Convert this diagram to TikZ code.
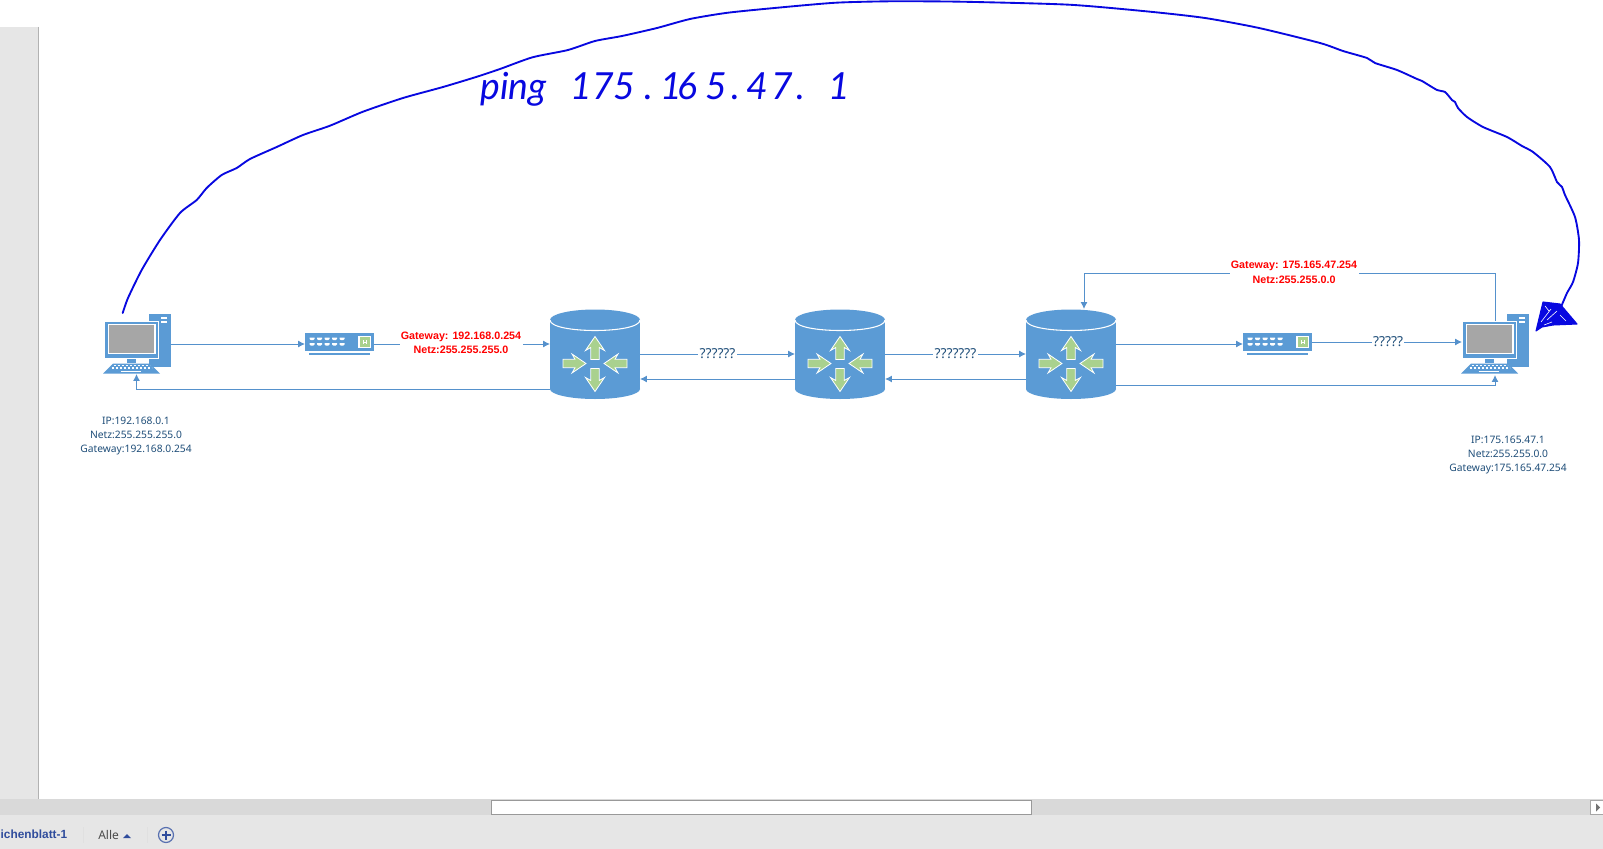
\documentclass[tikz,border=0pt]{standalone}
\usepackage{fontspec}
\setmainfont{Noto Sans}
\newfontfamily\handfont{Lato}
\newfontfamily\boldfont{Liberation Sans}
\usetikzlibrary{arrows.meta}
\definecolor{iconblue}{HTML}{5B9BD5}
\definecolor{linkblue}{HTML}{5591CC}
\definecolor{iconGreen}{HTML}{A9D18E}
\definecolor{textnavy}{HTML}{1F4E79}
\definecolor{penblue}{HTML}{0808E0}
\definecolor{panelgrey}{HTML}{E6E6E6}
\definecolor{bargrey}{HTML}{D9D9D9}
\definecolor{tabblue}{HTML}{2F4C9C}
\tikzset{
  conn/.style={draw=linkblue,line width=0.7pt,-{Latex[length=5.2pt,width=5.2pt]}},
  anchorbox/.style={inner sep=0pt,outer sep=0pt,minimum height=#1},
  redlabel/.style={fill=white,text=red,inner sep=1pt,align=center,font=\boldfont\bfseries\fontsize{8.05}{10.9}\selectfont},
  netlabel/.style={text=textnavy,inner sep=0pt,align=center,font=\fontsize{7.7}{10.8}\selectfont},
  qlabel/.style={fill=white,text=textnavy,inner sep=1pt,font=\fontsize{10.3}{12}\selectfont},
  pen/.style={draw=penblue,line width=1.4pt,line cap=round,line join=round},
  greenarrow/.pic={\path[fill=iconGreen,draw=white,line width=0.6pt]
    (0,-4.2)--(12,-4.2)--(9,-9.5)--(23,0)--(9,9.5)--(12,4.2)--(0,4.2)--cycle;},
  routerpic/.pic={
    \fill[iconblue] (-45,-34.5) rectangle (45,34.5);
    \fill[iconblue] (0,34.5) ellipse [x radius=45,y radius=10];
    \fill[iconblue] (0,-34.5) ellipse [x radius=45,y radius=10.5];
    \draw[white,line width=0.8pt] (-45,-34.5) .. controls (-45,-20.5) and (45,-20.5) .. (45,-34.5);
    \pic at (0,5) [rotate=90] {greenarrow};
    \pic at (0,14) [rotate=-90] {greenarrow};
    \pic at (-32,9) {greenarrow};
    \pic at (32,9) [rotate=180] {greenarrow};
  },
  switchpic/.pic={
    \fill[iconblue] (-34.5,-11) rectangle (34.5,7);
    \fill[iconblue] (-30.5,9) rectangle (30.5,11);
    \foreach \px in {-27.5,-20,-12.5,-5,2.5}{
      \fill[white] (\px-2.5,-6.5) -- (\px+2.5,-6.5) -- (\px+2.5,-5) -- (\px+1,-3.8) -- (\px-1,-3.8) -- (\px-2.5,-5) -- cycle;
      \fill[white] (\px-2.5,-1) -- (\px+2.5,-1) -- (\px+2.5,0.5) -- (\px+1,1.7) -- (\px-1,1.7) -- (\px-2.5,0.5) -- cycle;
    }
    \fill[iconGreen,draw=white,line width=0.8pt] (19.5,-7.5) rectangle (31,3.5);
    \draw[white,line width=0.5pt] (23.5,-3.8)--(23.5,0) (27,-3.8)--(27,0) (23.5,-2)--(27,-2);
  },
  pcpic/.pic={
    \fill[iconblue] (12.5,-30) rectangle (34.5,23);
    \fill[white] (24,-27) rectangle (30,-25);
    \fill[white] (24,-23) rectangle (30,-21);
    \fill[iconblue,draw=white,line width=0.8pt] (-31.5,-22) rectangle (22,14);
    \fill[iconblue] (-31.5,-22) rectangle (21,13.5);
    \fill[black!35,draw=white,line width=0.8pt] (-28,-19.5) rectangle (18.5,9.5);
    \fill[iconblue] (-9.5,14.5) rectangle (-0.5,19);
    \fill[iconblue] (-33.5,29.5)--(23.5,29.5)--(13.5,19.5)--(-23.5,19.5)--cycle;
    \draw[white,line width=0.8pt,dash pattern=on 2pt off 1pt] (-23,21.5)--(13,21.5);
    \draw[white,line width=0.8pt,dash pattern=on 2pt off 1pt] (-25,24)--(15,24);
    \draw[white,line width=0.8pt] (-16,27.5)--(4,27.5);
  }
}
\begin{document}
\begin{tikzpicture}[x=0.75pt,y=-0.75pt]
\useasboundingbox (0,0) rectangle (1603,849);
% window chrome
\fill[white] (0,0) rectangle (1603,849);
\fill[panelgrey] (0,27) rectangle (38,799);
\draw[black!30,line width=0.8pt] (38.5,27) -- (38.5,799);
\fill[bargrey] (0,799) rectangle (1603,815);
\fill[panelgrey] (0,815) rectangle (1603,849);
\fill[white,draw=black!40,line width=0.6pt] (491,800) rectangle (1031,814);
\fill[white,draw=black!35,line width=0.6pt] (1590.5,800) rectangle (1604,814.5);
\fill[black!55] (1596,803.5)--(1600,807.5)--(1596,811.5)--cycle;
\node[anchor=east,inner sep=0pt,text=tabblue,font=\boldfont\bfseries\fontsize{8.9}{11}\selectfont] (tabname) at (67.5,834.5) {ichenblatt-1};
\draw[black!12,line width=0.8pt] (83.5,827)--(83.5,843);
\node[anchor=west,inner sep=0pt,text=black!70,font=\fontsize{9}{11}\selectfont] (tabfilter) at (98,834.5) {Alle};
\fill[tabblue] (123,838)--(127,834)--(131,838)--cycle;
\draw[black!12,line width=0.8pt] (147.5,827)--(147.5,843);
\draw[tabblue!80,line width=0.9pt] (166,835) circle [radius=7.5];
\draw[tabblue,line width=1.3pt] (161.5,835)--(170.5,835) (166,830.5)--(166,839.5);
% anchors for devices
\node[anchorbox=60pt*0.75,minimum width=51.75pt] (pc1) at (136.5,344) {};
\node[anchorbox=60pt*0.75,minimum width=51.75pt] (pc2) at (1494.5,344) {};
\node[anchorbox=22pt*0.75,minimum width=51.75pt] (sw1) at (339.5,344) {};
\node[anchorbox=22pt*0.75,minimum width=51.75pt] (sw2) at (1277.5,344) {};
\node[anchorbox=89pt*0.75,minimum width=67.5pt] (r1) at (595,354.5) {};
\node[anchorbox=89pt*0.75,minimum width=67.5pt] (r2) at (840,354.5) {};
\node[anchorbox=89pt*0.75,minimum width=67.5pt] (r3) at (1071,354.5) {};
% connection ports
\coordinate (pc1in) at (136.5,374);
\coordinate (r1low) at (550,389);
\coordinate (r1out) at (640,354);
\coordinate (r1in) at (640,379);
\coordinate (r2inA) at (795,354);
\coordinate (r2outA) at (795,379);
\coordinate (r2outB) at (885,354);
\coordinate (r2inB) at (885,379);
\coordinate (r3inA) at (1026,354);
\coordinate (r3outA) at (1026,379);
\coordinate (r3outS) at (1116,344);
\coordinate (r3outP) at (1116,385);
\coordinate (r3top) at (1084,309);
\coordinate (sw2out) at (1312,342);
\coordinate (pc2in) at (1462,342);
\coordinate (pc2low) at (1495,375);
\coordinate (pc2top) at (1495,322);
\coordinate (upper) at (1084,273);
% connectors
\draw[conn] (pc1.east) -- (sw1.west);
\draw[conn] (sw1.east) -- (r1.west |- sw1.east);
\draw[conn] (r1low) -| (pc1in);
\draw[conn] (r1out) -- node[qlabel] (q1) {??????} (r2inA);
\draw[conn] (r2outA) -- (r1in);
\draw[conn] (r2outB) -- node[qlabel] (q2) {???????} (r3inA);
\draw[conn] (r3outA) -- (r2inB);
\draw[conn] (r3outS) -- (sw2.west);
\draw[conn] (sw2out) -- node[qlabel,pos=0.507] (q3) {?????} (pc2in);
\draw[conn] (r3outP) -| (pc2low);
\draw[conn] (pc2top) |- (upper) -- (r3top);
% devices
\pic at (pc1) {pcpic};
\pic at (pc2) {pcpic};
\pic at (sw1) {switchpic};
\pic at (sw2) {switchpic};
\pic at (r1) {routerpic};
\pic at (r2) {routerpic};
\pic at (r3) {routerpic};
% labels
\node[redlabel] (gw1) at (461,343) {Gateway: 192.168.0.254\\Netz:255.255.255.0};
\node[redlabel] (gw2) at (1294,272.5) {Gateway: 175.165.47.254\\Netz:255.255.0.0};
\node[netlabel] (info1) at (136,436) {IP:192.168.0.1\\Netz:255.255.255.0\\Gateway:192.168.0.254};
\node[netlabel] (info2) at (1508,455) {IP:175.165.47.1\\Netz:255.255.0.0\\Gateway:175.165.47.254};
% hand-drawn ping
\draw[pen] plot[smooth,tension=0.4] coordinates {
 (122.7,313)(128,298)(141.7,270)(160,240)(180,213)(196.7,200)(206.7,188)(221.7,175)(236.7,168)(250,159)
 (276.7,147)(303,135)(330,125.7)(363,111.7)(403,98)(443,87)(477,76.7)(500,69)(532.5,57.3)(568,50)(595,41)
 (622,36)(657,28)(690,19)(728,12.7)(782,7.3)(836,2.7)(890,1.3)(961,1.7)(1069,4.7)(1150,11.7)(1205,18)
 (1259,28)(1320,43)(1343,51)(1367,58)(1375,63)(1397,70)(1417,79)(1422,81)(1437,90)(1445,92)(1452,100)
 (1455,102)(1458,108)(1467,117)(1483,127)(1507,137)(1522,146)(1533,152)(1550,167)(1557,182)(1562,187)
 (1565,195)(1575,217)(1579,240)(1578,263)(1573,282)(1567,293)(1561,307)};
\path[fill=penblue,draw=penblue,line width=0.8pt,line join=round]
 (1536,331)--(1543,302)--(1560,304)--(1577,324)--(1553,325)--(1542,327)--cycle;
\draw[white,line width=0.45pt] (1541,322)--(1551,309) (1547,320)--(1557,311) (1545,306)--(1549,311) (1560,315)--(1566,321) (1544,325)--(1552,322);
\node[anchor=base west,inner sep=0pt,text=penblue,font=\handfont\itshape\fontsize{28}{30}\selectfont] (ping) at (480,99)
 {ping\hspace{18pt}175\hspace{7pt}.\hspace{5pt}1\kern-3pt 6\hspace{6pt}5\hspace{3pt}.\hspace{5pt}4\kern2pt 7\hspace{3pt}.\hspace{17pt}1};
\end{tikzpicture}
\end{document}
